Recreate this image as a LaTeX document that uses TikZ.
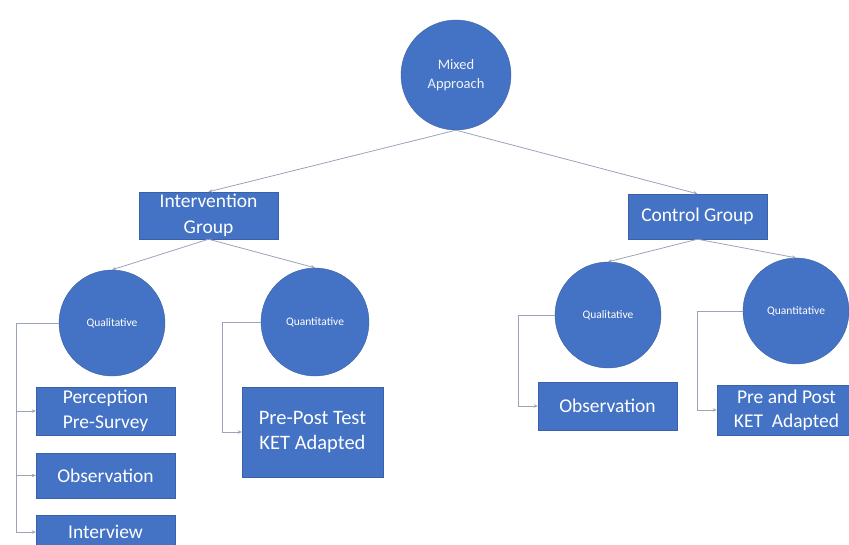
\documentclass[tikz,border=0pt]{standalone}
\usepackage{fontspec}
\setmainfont{Carlito}
\usetikzlibrary{arrows.meta,calc}
\definecolor{obl}{HTML}{4472C4}
\definecolor{lnc}{HTML}{9AA3B8}
\tikzset{
  circ/.style={circle,fill=obl,draw=obl!85!black,line width=0.4pt,inner sep=0pt,text=white,align=center},
  boxn/.style={rectangle,fill=obl,draw=obl!85!black,line width=0.4pt,inner sep=0pt,text=white,align=center,font=\fontsize{19.5}{25}\selectfont},
  small/.style={font=\fontsize{11.5}{13}\selectfont},
  conn/.style={draw=lnc,line width=0.8pt,-{Stealth[length=4pt,width=3.5pt]}},
  plain/.style={draw=lnc,line width=0.8pt},
}
\begin{document}
\begin{tikzpicture}[x=1pt,y=-1pt]
\useasboundingbox (0,0) rectangle (849,544);
\clip (0,0) rectangle (849,544);
% top
\node[circ,minimum size=110pt,font=\fontsize{14.5}{19}\selectfont,text=white!92!obl] (m) at (456,75) {Mixed\\Approach};
\node[boxn,minimum width=139pt,minimum height=47pt,font=\fontsize{19.5}{26}\selectfont] (ig) at (208.5,215.5) {Intervention\\Group};
\node[boxn,minimum width=139pt,minimum height=45pt] (cg) at (697.5,216.5) {Control Group};
% circles
\node[circ,minimum size=106pt,small] (q1) at (112,323) {Qualitative};
\node[circ,minimum size=108pt,small] (q2) at (315,322) {Quantitative};
\node[circ,minimum size=106pt,small] (c1) at (608,315) {Qualitative};
\node[circ,minimum size=106pt,small] (c2) at (796,311) {Quantitative};
% boxes
\node[boxn,minimum width=139pt,minimum height=48pt] (b1) at (105.5,411) {Perception\\Pre-Survey};
\node[boxn,minimum width=139pt,minimum height=45pt] (b2) at (105.5,475.5) {Observation};
\node[boxn,minimum width=139pt,minimum height=34pt] (b3) at (105.5,532) {Interview};
\node[boxn,minimum width=141pt,minimum height=90pt,font=\fontsize{20.5}{25}\selectfont] (b4) at (312.5,432) {Pre-Post Test\\KET Adapted};
\node[boxn,minimum width=139pt,minimum height=48pt] (b5) at (607.5,406) {Observation};
\node[boxn,minimum width=139pt,minimum height=50pt,font=\fontsize{19.5}{24}\selectfont] (b6) at (786.5,410) {Pre and Post\\KET\ \ Adapted};
% connectors
\draw[conn] (m.south) -- (ig.north);
\draw[conn] (m.south) -- (cg.north);
\draw[conn] (ig.south) -- (q1.north);
\draw[conn] (ig.south) -- (q2.north);
\draw[conn] (cg.south) -- (c1.north);
\draw[conn] (cg.south) -- (c2.north);
\coordinate (j1) at (16,318);
\coordinate (j2) at (222,318);
\coordinate (j3) at (518,315);
\coordinate (j4) at (697,313);
\draw[plain] (q1.west) -- (q1.west -| j1);
\draw[conn] (q1.west -| j1) |- (b1.west);
\draw[conn] (q1.west -| j1) |- (b2.west);
\draw[conn] (q1.west -| j1) |- (b3.west);
\draw[conn] (q2.west) -- (q2.west -| j2) |- (b4.west);
\draw[conn] (c1.west) -- (c1.west -| j3) |- (b5.west);
\draw[conn] (c2.west) -- (c2.west -| j4) |- (b6.west);
\end{tikzpicture}
\end{document}
